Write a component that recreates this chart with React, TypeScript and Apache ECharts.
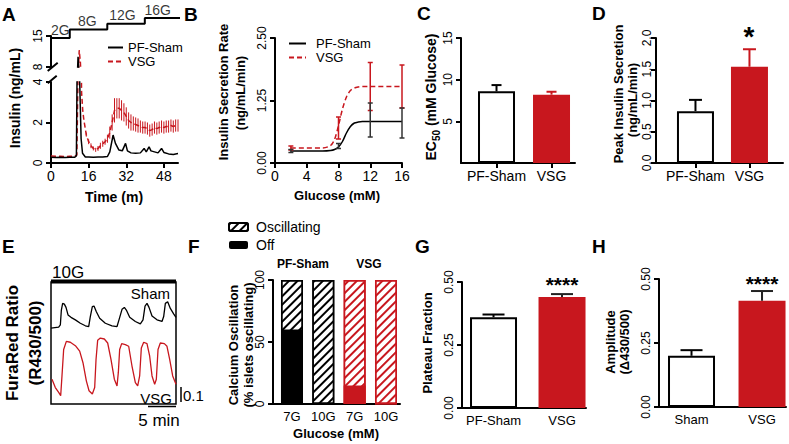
import { useEffect, useRef } from 'react';
import * as echarts from 'echarts';

const RED = '#c8171e';
const FONT = '"Liberation Sans", Arial, Helvetica, sans-serif';

// ---------- A: perifusion insulin time course ----------
const glucoseStepTime = [0, 8, 24, 40, 55];
const glucoseStepLevel = [2, 8, 12, 16, 16];
const glucoseLabelTime = [4, 15.5, 30.5, 45.5];
const glucoseLabelLevel = [2, 8, 12, 16];
const glucoseLabels = ['2G', '8G', '12G', '16G'];

const shamTime = [0, 2, 4, 6, 8, 10, 10.8, 11.5, 12.2, 12.8, 13.4, 14.6, 16, 18, 20, 22, 24, 25, 26.4, 27.4, 28.9, 30.3, 31.7, 32.5, 34, 36, 38, 39.6, 40.5, 41.7, 42.5, 44, 45.5, 47, 48, 50, 52, 54];
const shamInsulin = [0.28, 0.27, 0.28, 0.27, 0.28, 0.28, 0.35, 10.3, 4, 1.2, 0.48, 0.3, 0.3, 0.28, 0.3, 0.3, 0.32, 0.55, 1.38, 0.97, 0.64, 0.6, 0.97, 0.6, 0.5, 0.48, 0.5, 0.72, 0.55, 0.8, 0.6, 0.55, 0.5, 0.72, 0.52, 0.45, 0.42, 0.47];

const vsgTime = [0, 2, 4, 6, 8, 10, 11, 11.5, 12, 12.5, 13, 13.5, 14,
  15, 16, 17, 18, 19, 20, 21, 22, 23, 24, 25, 26, 27, 28, 29, 30, 31, 32, 33, 34,
  35, 36, 37, 38, 39, 40, 41, 42, 43, 44, 45, 46, 47, 48, 49, 50, 51, 52, 53, 54];
const vsgInsulin = [0.35, 0.33, 0.33, 0.32, 0.33, 0.33, 0.4, 4.5, 11.8, 9, 3.5, 2.6, 2.1,
  1.4, 1.05, 0.85, 0.72, 0.65, 0.72, 0.85, 0.95, 1.05, 1.2,
  1.5, 2.0, 2.6, 2.7, 2.7, 2.6, 2.5, 2.3, 2.1, 2.0,
  1.95, 1.9, 1.85, 1.8, 1.75, 1.75, 1.7, 1.6, 1.65, 1.75,
  1.7, 1.75, 1.8, 1.75, 1.8, 1.8, 1.85, 1.8, 1.85, 1.85];
const vsgError = [0, 0, 0, 0, 0, 0, 0, 0, 0, 0, 0, 0, 0,
  0.1, 0.12, 0.12, 0.1, 0.1, 0.12, 0.15, 0.15, 0.15, 0.2,
  0.3, 0.4, 0.6, 0.5, 0.5, 0.5, 0.45, 0.45, 0.4, 0.4,
  0.35, 0.35, 0.35, 0.3, 0.3, 0.3, 0.3, 0.3, 0.3, 0.3,
  0.3, 0.3, 0.3, 0.3, 0.3, 0.3, 0.3, 0.3, 0.3, 0.3];

// ---------- B: dose response ----------
const bFitGlucose = [2, 6, 7, 7.5, 8, 8.5, 9, 9.5, 10, 10.5, 11, 12, 16];
const bShamFit = [0.24, 0.24, 0.25, 0.27, 0.32, 0.43, 0.6, 0.73, 0.8, 0.82, 0.83, 0.83, 0.83];
const bVsgFit = [0.3, 0.3, 0.35, 0.47, 0.75, 1.08, 1.32, 1.45, 1.5, 1.52, 1.53, 1.53, 1.53];
const bPointGlucose = [2, 8, 12, 16];
const bShamMean = [0.24, 0.34, 0.86, 0.8];
const bShamSem = [0.03, 0.05, 0.34, 0.3];
const bVsgMean = [0.3, 0.7, 1.53, 1.53];
const bVsgSem = [0.04, 0.22, 0.48, 0.43];

// ---------- C, D ----------
const groups = ['PF-Sham', 'VSG'];
const cEC50 = [8.6, 8.2];
const cSem = [0.75, 0.35];
const dPeak = [0.83, 1.54];
const dSem = [0.18, 0.28];

// ---------- E: FuraRed traces (min, ratio) ----------
const eSham = [[0, 0.511], [1.37, 0.518], [1.67, 0.533], [1.85, 0.633], [2.08, 0.678], [2.38, 0.673], [2.68, 0.651], [3.04, 0.6], [3.57, 0.584], [4.35, 0.567], [5.24, 0.544], [6.13, 0.527], [6.73, 0.522], [7.02, 0.589], [7.38, 0.656], [7.68, 0.66], [8.1, 0.622], [8.69, 0.578], [9.7, 0.544], [10.89, 0.527], [11.79, 0.522], [12.14, 0.567], [12.68, 0.638], [13.1, 0.651], [13.45, 0.633], [14.05, 0.584], [15.06, 0.556], [15.95, 0.54], [16.43, 0.567], [16.79, 0.66], [17.14, 0.678], [17.5, 0.651], [18.04, 0.593], [18.93, 0.567], [19.82, 0.556], [20.12, 0.589], [20.42, 0.678], [20.83, 0.689], [21.31, 0.644], [21.9, 0.607], [22.32, 0.584]];
const eVsg = [[0.18, 0.167], [0.77, 0.111], [1.37, 0.078], [1.73, 0.056], [1.96, 0.189], [2.26, 0.367], [2.74, 0.422], [3.45, 0.416], [4.35, 0.393], [5.12, 0.356], [5.71, 0.278], [6.31, 0.156], [6.79, 0.089], [7.38, 0.067], [7.8, 0.111], [8.04, 0.3], [8.33, 0.429], [8.81, 0.444], [9.52, 0.438], [10.12, 0.411], [10.71, 0.3], [11.31, 0.167], [11.79, 0.122], [12.02, 0.211], [12.26, 0.367], [12.62, 0.407], [13.27, 0.4], [13.87, 0.389], [14.46, 0.256], [15.06, 0.144], [15.48, 0.122], [15.83, 0.189], [16.13, 0.378], [16.55, 0.416], [17.14, 0.407], [17.62, 0.322], [18.04, 0.189], [18.51, 0.133], [18.81, 0.167], [19.11, 0.367], [19.52, 0.411], [20.24, 0.407], [20.71, 0.389], [21.19, 0.3], [21.73, 0.189], [22.32, 0.133]];

// ---------- F ----------
const fGlucose = ['7G', '10G', '7G', '10G'];
const fOff = [60, 0, 15, 0];
const fOscillating = [40, 100, 85, 100];
const fIsVsg = [false, false, true, true];

// ---------- G, H ----------
const gPlateau = [0.36, 0.44];
const gSem = [0.011, 0.012];
const hGroups = ['Sham', 'VSG'];
const hAmplitude = [0.2, 0.415];
const hSem = [0.022, 0.038];

const axisLine = { show: true, lineStyle: { color: '#000', width: 2 } };
const axisTick = { show: true, length: 5, lineStyle: { color: '#000', width: 2 } };
const yLab = (extra: any = {}) => ({ color: '#000', fontFamily: FONT, fontSize: 12, rotate: 90, margin: 7, ...extra });
const xLab = (extra: any = {}) => ({ color: '#000', fontFamily: FONT, fontSize: 14, margin: 6, ...extra });

function errorBars(idx: number, pts: number[][], colors: string[], cap: number, both: boolean, lw = 2, name = 'SEM') {
  return {
    type: 'custom', name, xAxisIndex: idx, yAxisIndex: idx, silent: true, z: 5,
    data: pts,
    encode: { x: 0, y: 1 },
    renderItem: (params: any, api: any) => {
      const x = api.value(0), m = api.value(1), e = api.value(2);
      if (!e) return { type: 'group', children: [] };
      const color = colors[params.dataIndex % colors.length];
      const top = api.coord([x, m + e]);
      const bot = api.coord([x, both ? m - e : m]);
      const style = { stroke: color, lineWidth: lw };
      const children: any[] = [{ type: 'line', shape: { x1: top[0], y1: top[1], x2: bot[0], y2: bot[1] }, style }];
      if (cap > 0) {
        children.push({ type: 'line', shape: { x1: top[0] - cap / 2, y1: top[1], x2: top[0] + cap / 2, y2: top[1] }, style });
        if (both) children.push({ type: 'line', shape: { x1: bot[0] - cap / 2, y1: bot[1], x2: bot[0] + cap / 2, y2: bot[1] }, style });
      }
      return { type: 'group', children };
    },
  };
}

function barSeries(idx: number, values: number[], width: number) {
  return {
    type: 'bar', name: 'mean', xAxisIndex: idx, yAxisIndex: idx, barWidth: width,
    data: values.map((v, i) => ({
      value: [i + 1, v],
      itemStyle: i === 0 ? { color: '#fff', borderColor: '#000', borderWidth: 2 } : { color: RED, borderColor: RED, borderWidth: 0 },
    })),
  };
}

function catX(min: number, max: number, labels: string[], ticks = true, size = 14) {
  return {
    type: 'value', min, max, splitLine: { show: false }, axisLine,
    axisTick: { ...axisTick, show: ticks, customValues: labels.map((_, i) => i + 1) },
    axisLabel: xLab({ fontSize: size, customValues: labels.map((_, i) => i + 1), formatter: (v: number) => labels[Math.round(v) - 1] ?? '' }),
  };
}

const txt = (x: number, y: number, text: string, size: number, bold = false, rot = 0, align = 'center') => ({
  type: 'text', x, y, rotation: rot, silent: true,
  style: { text, fill: '#000', fontFamily: FONT, fontSize: size, fontWeight: bold ? 'bold' : 'normal', align, verticalAlign: 'middle' },
});
const seg = (x1: number, y1: number, x2: number, y2: number, w = 2) => ({
  type: 'line', silent: true, shape: { x1, y1, x2, y2 }, style: { stroke: '#000', lineWidth: w },
});

const hatch = (color: string) => ({ symbol: 'rect', symbolSize: 1, color, dashArrayX: [1, 0], dashArrayY: [2, 4], rotation: -Math.PI / 4 });

function buildOption(): any {
  const shamPts = shamTime.map((t, i) => [t, shamInsulin[i]]);
  const vsgPts = vsgTime.map((t, i) => [t, vsgInsulin[i]]);
  const lineSham = { type: 'line', name: 'PF-Sham', showSymbol: false, symbol: 'none', z: 4, lineStyle: { color: '#000', width: 1.5 }, itemStyle: { color: '#000' } };
  const lineVsg = { type: 'line', name: 'VSG', showSymbol: false, symbol: 'none', z: 3, lineStyle: { color: RED, width: 1.5, type: [5, 3] }, itemStyle: { color: RED } };
  const PI2 = Math.PI / 2;

  return {
    animation: false,
    backgroundColor: '#fff',
    textStyle: { fontFamily: FONT },
    grid: [
      { left: 51, top: 36, width: 127, height: 31 },
      { left: 51, top: 82, width: 127, height: 81 },
      { left: 51, top: 18, width: 129, height: 20 },
      { left: 275, top: 38, width: 127, height: 125 },
      { left: 461, top: 38, width: 114, height: 125 },
      { left: 656, top: 38, width: 127, height: 125 },
      { left: 51, top: 282, width: 125, height: 122, show: true, borderColor: '#000', borderWidth: 1.5 },
      { left: 273, top: 280, width: 127, height: 124 },
      { left: 462, top: 282, width: 124, height: 126 },
      { left: 659, top: 279, width: 127, height: 128 },
    ],
    xAxis: [
      { gridIndex: 0, type: 'value', min: 0, max: 54, show: false },
      { gridIndex: 1, type: 'value', min: 0, max: 54, interval: 16, splitLine: { show: false }, axisLine, axisTick, axisLabel: xLab() },
      { gridIndex: 2, type: 'value', min: 0, max: 55, show: false },
      { gridIndex: 3, type: 'value', min: 0, max: 16, interval: 4, splitLine: { show: false }, axisLine, axisTick, axisLabel: xLab() },
      { gridIndex: 4, ...catX(0.3545, 2.427, groups) },
      { gridIndex: 5, ...catX(0.269, 2.621, groups) },
      { gridIndex: 6, type: 'value', min: 0, max: 22.32, show: false },
      { gridIndex: 7, ...catX(0.394, 4.447, fGlucose, false, 13) },
      { gridIndex: 8, ...catX(0.54, 2.35, groups, false, 13) },
      { gridIndex: 9, ...catX(0.539, 2.34, hGroups, false, 13) },
    ],
    yAxis: [
      { gridIndex: 0, type: 'value', min: 8, max: 15, splitLine: { show: false }, axisLine, axisTick: { ...axisTick, customValues: [8, 15] }, axisLabel: yLab({ customValues: [8, 15] }) },
      { gridIndex: 1, type: 'value', min: 0, max: 4, interval: 2, splitLine: { show: false }, axisLine, axisTick, axisLabel: yLab() },
      { gridIndex: 2, type: 'value', min: 2, max: 16, show: false },
      { gridIndex: 3, type: 'value', min: 0, max: 2.5, interval: 1.25, splitLine: { show: false }, axisLine, axisTick, axisLabel: yLab({ formatter: (v: number) => v.toFixed(2) }) },
      { gridIndex: 4, type: 'value', min: 0, max: 15, interval: 5, splitLine: { show: false }, axisLine, axisTick, axisLabel: yLab({ showMinLabel: false }) },
      { gridIndex: 5, type: 'value', min: 0, max: 2, interval: 0.5, splitLine: { show: false }, axisLine, axisTick, axisLabel: yLab({ margin: 3, formatter: (v: number) => v.toFixed(1) }) },
      { gridIndex: 6, type: 'value', min: 0, max: 0.822, show: false },
      { gridIndex: 7, type: 'value', min: 0, max: 100, interval: 50, splitLine: { show: false }, axisLine, axisTick, axisLabel: yLab() },
      { gridIndex: 8, type: 'value', min: 0, max: 0.5, interval: 0.25, splitLine: { show: false }, axisLine, axisTick, axisLabel: yLab({ formatter: (v: number) => v.toFixed(2) }) },
      { gridIndex: 9, type: 'value', min: 0, max: 0.5, interval: 0.25, splitLine: { show: false }, axisLine, axisTick, axisLabel: yLab({ formatter: (v: number) => v.toFixed(2) }) },
    ],
    legend: [
      {
        data: ['PF-Sham', 'VSG'], left: 102, top: 36, orient: 'vertical', itemWidth: 15, itemHeight: 12, itemGap: 1, selectedMode: false,
        itemStyle: { opacity: 0 },
        textStyle: { fontFamily: FONT, fontSize: 13, color: '#000', lineHeight: 12 },
      },
      {
        data: ['PF-Sham', 'VSG'], left: 283, top: 32, orient: 'vertical', itemWidth: 17, itemHeight: 13, itemGap: 1, selectedMode: false,
        itemStyle: { opacity: 0 },
        textStyle: { fontFamily: FONT, fontSize: 13, color: '#000', lineHeight: 12, padding: [0, 0, 0, 5] },
      },
      {
        data: ['Oscillating', 'Off'], left: 223, top: 215, orient: 'vertical', itemWidth: 19, itemHeight: 8, itemGap: 4, selectedMode: false,
        textStyle: { fontFamily: FONT, fontSize: 14, color: '#000', lineHeight: 8, padding: [0, 0, 0, 3] },
      },
    ],
    series: [
      // A
      { ...lineVsg, xAxisIndex: 0, yAxisIndex: 0, data: vsgPts },
      { ...lineSham, xAxisIndex: 0, yAxisIndex: 0, data: shamPts },
      errorBars(1, vsgTime.map((t, i) => [t, vsgInsulin[i], vsgError[i]]), [RED], 0, true, 1, 'VSG SEM'),
      { ...lineVsg, xAxisIndex: 1, yAxisIndex: 1, data: vsgPts },
      { ...lineSham, xAxisIndex: 1, yAxisIndex: 1, data: shamPts },
      {
        type: 'line', name: 'Glucose', step: 'end', xAxisIndex: 2, yAxisIndex: 2, symbol: 'none', showSymbol: false,
        lineStyle: { color: '#000', width: 2 }, data: glucoseStepTime.map((t, i) => [t, glucoseStepLevel[i]]),
      },
      {
        type: 'scatter', name: 'Glucose label', xAxisIndex: 2, yAxisIndex: 2, symbolSize: 1, itemStyle: { color: 'rgba(0,0,0,0)' },
        data: glucoseLabelTime.map((t, i) => [t, glucoseLabelLevel[i]]),
        label: { show: true, position: 'top', distance: 1, color: '#000', fontFamily: FONT, fontSize: 14, formatter: (p: any) => glucoseLabels[p.dataIndex] },
      },
      // B
      { ...lineVsg, xAxisIndex: 3, yAxisIndex: 3, smooth: 0.3, data: bFitGlucose.map((g, i) => [g, bVsgFit[i]]) },
      { ...lineSham, xAxisIndex: 3, yAxisIndex: 3, smooth: 0.3, data: bFitGlucose.map((g, i) => [g, bShamFit[i]]) },
      errorBars(3, bPointGlucose.map((g, i) => [g, bVsgMean[i], bVsgSem[i]]), [RED], 5, true, 1.5, 'VSG SEM'),
      errorBars(3, bPointGlucose.map((g, i) => [g, bShamMean[i], bShamSem[i]]), ['#333'], 5, true, 1.5, 'PF-Sham SEM'),
      // C
      barSeries(4, cEC50, 37),
      errorBars(4, cEC50.map((v, i) => [i + 1, v, cSem[i]]), ['#000', RED], 10, false),
      // D
      barSeries(5, dPeak, 37),
      errorBars(5, dPeak.map((v, i) => [i + 1, v, dSem[i]]), ['#000', RED], 13, false),
      // E
      { type: 'line', name: 'Sham trace', xAxisIndex: 6, yAxisIndex: 6, symbol: 'none', showSymbol: false, lineStyle: { color: '#000', width: 1.3 }, data: eSham },
      { type: 'line', name: 'VSG trace', xAxisIndex: 6, yAxisIndex: 6, symbol: 'none', showSymbol: false, lineStyle: { color: RED, width: 1.3 }, data: eVsg },
      // F: oscillating fraction drawn to the top of the stack (off + oscillating), off fraction overlaid from 0
      {
        type: 'bar', name: 'Oscillating', xAxisIndex: 7, yAxisIndex: 7, barWidth: 22, barGap: '-100%',
        itemStyle: { color: '#fff', borderColor: '#000', borderWidth: 1.5, decal: hatch('#000') },
        data: fOscillating.map((v, i) => ({
          value: [i + 1, fOff[i] + v],
          itemStyle: { color: '#fff', borderColor: fIsVsg[i] ? RED : '#000', borderWidth: 1.5, decal: hatch(fIsVsg[i] ? RED : '#000') },
        })),
      },
      {
        type: 'bar', name: 'Off', xAxisIndex: 7, yAxisIndex: 7, barWidth: 22, barGap: '-100%',
        itemStyle: { color: '#000' },
        data: fOff.map((v, i) => ({ value: [i + 1, v], itemStyle: { color: fIsVsg[i] ? RED : '#000', borderColor: fIsVsg[i] ? RED : '#000', borderWidth: 1.5 } })),
      },
      // G
      barSeries(8, gPlateau, 47),
      errorBars(8, gPlateau.map((v, i) => [i + 1, v, gSem[i]]), ['#000', '#222'], 22, false),
      // H
      barSeries(9, hAmplitude, 47),
      errorBars(9, hAmplitude.map((v, i) => [i + 1, v, hSem[i]]), ['#000', '#222'], 22, false),
    ],
    graphic: [
      // panel letters
      txt(2, 14, 'A', 19, true, 0, 'left'),
      txt(184, 14, 'B', 19, true, 0, 'left'),
      txt(417, 13, 'C', 19, true, 0, 'left'),
      txt(592, 13, 'D', 19, true, 0, 'left'),
      txt(2, 246, 'E', 19, true, 0, 'left'),
      txt(188, 246, 'F', 19, true, 0, 'left'),
      txt(415, 246, 'G', 19, true, 0, 'left'),
      txt(592, 246, 'H', 19, true, 0, 'left'),
      // A
      txt(15, 98, 'Insulin (ng/mL)', 14, true, PI2),
      txt(114, 197, 'Time (m)', 14, true),
      seg(47.7, 71, 57.7, 62.7),
      seg(47.7, 83.3, 56.7, 75.7),
      // B
      txt(223, 92, 'Insulin Secretion Rate', 13, true, PI2),
      txt(240, 93, '(ng/mL/min)', 13, true, PI2),
      txt(337, 195, 'Glucose (mM)', 13, true),
      // C
      {
        type: 'text', x: 431, y: 97, rotation: PI2, silent: true,
        style: {
          text: '{n|EC}{s|50}{n| (mM Glucose)}', align: 'center', verticalAlign: 'middle',
          rich: {
            n: { fontFamily: FONT, fontSize: 14, fontWeight: 'bold', fill: '#000', lineHeight: 20, verticalAlign: 'middle' },
            s: { fontFamily: FONT, fontSize: 10, fontWeight: 'bold', fill: '#000', lineHeight: 10, verticalAlign: 'bottom' },
          },
        },
      },
      // D
      txt(618, 94, 'Peak Insulin Secretion', 13, true, PI2),
      txt(632, 100, '(ng/mL/min)', 13, true, PI2),
      txt(749, 36, '*', 28, true),
      // E
      txt(12, 343, 'FuraRed Ratio', 17, true, PI2),
      txt(35, 343, '(R430/500)', 17, true, PI2),
      { type: 'rect', silent: true, shape: { x: 51, y: 279.5, width: 125, height: 4 }, style: { fill: '#000' } },
      txt(52, 272, '10G', 17, false, 0, 'left'),
      txt(170, 293, 'Sham', 15, false, 0, 'right'),
      txt(172, 398, 'VSG', 15, false, 0, 'right'),
      seg(181, 387, 181, 402, 1.5),
      txt(183, 395, '0.1', 15, false, 0, 'left'),
      seg(148, 406.5, 176, 406.5, 1.5),
      txt(159, 420, '5 min', 17, false),
      // F
      txt(233, 345, 'Calcium Oscillation', 13, true, PI2),
      txt(248, 345, '(% islets oscillating)', 13, true, PI2),
      txt(303, 264, 'PF-Sham', 12, true),
      txt(369, 264, 'VSG', 12, true),
      txt(336, 433, 'Glucose (mM)', 13, true),
      // G
      txt(427, 343, 'Plateau Fraction', 13, true, PI2),
      txt(562, 284, '****', 21, true),
      // H
      txt(610, 342, 'Amplitude', 13, true, PI2),
      txt(624, 342, '(Δ430/500)', 13, true, PI2),
      txt(762, 283, '****', 21, true),
    ],
  };
}

export default function App() {
  const ref = useRef<HTMLDivElement>(null);
  useEffect(() => {
    const chart = echarts.init(ref.current!, null, { renderer: 'svg' });
    chart.setOption(buildOption());
    return () => chart.dispose();
  }, []);
  return <div ref={ref} style={{ position: 'absolute', left: 0, top: 0, width: 789, height: 444 }} />;
}
